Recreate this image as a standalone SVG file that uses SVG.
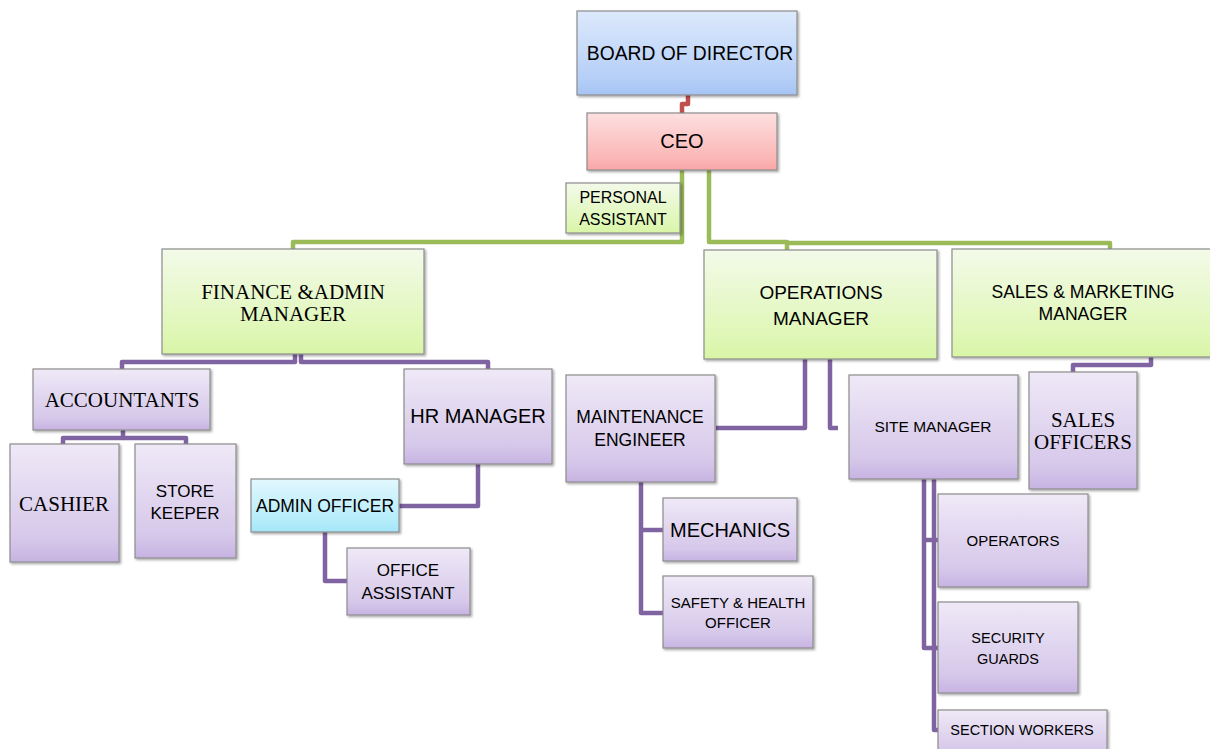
<svg xmlns="http://www.w3.org/2000/svg" width="1210" height="749" viewBox="0 0 1210 749">
<style>
.n{stroke:#8c8c8c;stroke-width:1.2;filter:url(#sh)}
.p{fill:url(#gp)}
.g{fill:url(#gg)}
.t{font-family:"Liberation Sans",Arial,sans-serif;fill:#000;text-anchor:middle}
.s{font-family:"Liberation Serif","Times New Roman",serif;fill:#000;text-anchor:middle}
.cg{fill:none;stroke:#9bbb59;stroke-width:4.5;stroke-linejoin:round}
.cp{fill:none;stroke:#8064a2;stroke-width:4.5;stroke-linejoin:round}
.cr{fill:none;stroke:#c0504d;stroke-width:4.5;stroke-linejoin:round}
</style>
<defs>
<linearGradient id="gp" x1="0" y1="0" x2="0" y2="1"><stop offset="0" stop-color="#efe9f7"/><stop offset="0.8" stop-color="#d6c8ea"/><stop offset="1" stop-color="#c7b3e2"/></linearGradient>
<linearGradient id="gg" x1="0" y1="0" x2="0" y2="1"><stop offset="0" stop-color="#f3fae9"/><stop offset="0.8" stop-color="#dff7b6"/><stop offset="1" stop-color="#d8f5a6"/></linearGradient>
<linearGradient id="gb" x1="0" y1="0" x2="0" y2="1"><stop offset="0" stop-color="#dde9fc"/><stop offset="0.8" stop-color="#b5cff7"/><stop offset="1" stop-color="#a6c4f4"/></linearGradient>
<linearGradient id="gr" x1="0" y1="0" x2="0" y2="1"><stop offset="0" stop-color="#fde0e0"/><stop offset="0.8" stop-color="#fbb6b6"/><stop offset="1" stop-color="#f9a6a6"/></linearGradient>
<linearGradient id="gc" x1="0" y1="0" x2="0" y2="1"><stop offset="0" stop-color="#e2f7fd"/><stop offset="0.8" stop-color="#b3ecfa"/><stop offset="1" stop-color="#a3e6f8"/></linearGradient>
<filter id="sh" x="-10%" y="-10%" width="130%" height="130%"><feDropShadow dx="1.5" dy="1.5" stdDeviation="1" flood-color="#000" flood-opacity="0.35"/></filter>
</defs>

<g id="connectors">
<path class="cr" d="M688,95 V104 H682 V113"/>
<path class="cg" d="M682,170 V242 H293 V250"/>
<path class="cg" d="M709,170 V242 H787 V250"/>
<path class="cg" d="M787,243 H1110 V250"/>
<path class="cp" d="M295,354 V362 H122 V370"/>
<path class="cp" d="M301,354 V362 H488 V370"/>
<path class="cp" d="M123,430 V438 H63 V444"/>
<path class="cp" d="M123,438 H186 V444"/>
<path class="cp" d="M478,464 V506 H399"/>
<path class="cp" d="M325,532 V581 H347"/>
<path class="cp" d="M805,359 V428 H716"/>
<path class="cp" d="M830,359 V428 H838"/>
<path class="cp" d="M641,482 V613 H663"/>
<path class="cp" d="M641,530 H663"/>
<path class="cp" d="M1151,357 V365 H1073 V372"/>
<path class="cp" d="M924,479 V648 H938"/>
<path class="cp" d="M924,540 H938"/>
<path class="cp" d="M934,479 V730 H938"/>
</g>

<g id="board"><rect class="n" x="577" y="11" width="220" height="84" fill="url(#gb)"/><text class="t" x="690" y="60" font-size="19.3">BOARD OF DIRECTOR</text></g>
<g id="ceo"><rect class="n" x="587" y="113" width="190" height="57" fill="url(#gr)"/><text class="t" x="682" y="148" font-size="20">CEO</text></g>
<g id="personal-assistant"><rect class="n g" x="566" y="183" width="114" height="50"/><text class="t" x="623" y="203" font-size="16">PERSONAL</text><text class="t" x="623" y="225" font-size="16">ASSISTANT</text></g>

<g id="finance"><rect class="n g" x="162" y="249" width="262" height="105"/><text class="s" x="293" y="299" font-size="21">FINANCE &amp;ADMIN</text><text class="s" x="293" y="321" font-size="21">MANAGER</text></g>
<g id="operations"><rect class="n g" x="704" y="250" width="233" height="109"/><text class="t" x="821" y="299" font-size="19">OPERATIONS</text><text class="t" x="821" y="325" font-size="19">MANAGER</text></g>
<g id="sales-marketing"><rect class="n g" x="952" y="249" width="262" height="108"/><text class="t" x="1083" y="298" font-size="17.6">SALES &amp; MARKETING</text><text class="t" x="1083" y="320" font-size="17.6">MANAGER</text></g>

<g id="accountants"><rect class="n p" x="33" y="369" width="177" height="61"/><text class="s" x="122" y="407" font-size="21">ACCOUNTANTS</text></g>
<g id="cashier"><rect class="n p" x="10" y="444" width="109" height="118"/><text class="s" x="64" y="511" font-size="21">CASHIER</text></g>
<g id="store-keeper"><rect class="n p" x="135" y="444" width="101" height="114"/><text class="t" x="185" y="497" font-size="17">STORE</text><text class="t" x="185" y="519" font-size="17">KEEPER</text></g>
<g id="hr-manager"><rect class="n p" x="404" y="369" width="148" height="95"/><text class="t" x="478" y="423" font-size="20">HR MANAGER</text></g>
<g id="admin-officer"><rect class="n" x="251" y="479" width="148" height="53" fill="url(#gc)"/><text class="t" x="325" y="512" font-size="17.5">ADMIN OFFICER</text></g>
<g id="office-assistant"><rect class="n p" x="347" y="548" width="123" height="67"/><text class="t" x="408" y="576" font-size="17">OFFICE</text><text class="t" x="408" y="599" font-size="17">ASSISTANT</text></g>

<g id="maintenance"><rect class="n p" x="566" y="375" width="149" height="107"/><text class="t" x="640" y="423" font-size="17.5">MAINTENANCE</text><text class="t" x="640" y="446" font-size="17.5">ENGINEER</text></g>
<g id="mechanics"><rect class="n p" x="663" y="498" width="134" height="63"/><text class="t" x="730" y="537" font-size="20">MECHANICS</text></g>
<g id="safety"><rect class="n p" x="663" y="576" width="150" height="72"/><text class="t" x="738" y="608" font-size="15">SAFETY &amp; HEALTH</text><text class="t" x="738" y="628" font-size="15">OFFICER</text></g>

<g id="site-manager"><rect class="n p" x="849" y="375" width="169" height="104"/><text class="t" x="933" y="432" font-size="15.5">SITE MANAGER</text></g>
<g id="sales-officers"><rect class="n p" x="1029" y="372" width="108" height="117"/><text class="s" x="1083" y="427" font-size="21">SALES</text><text class="s" x="1083" y="449" font-size="21">OFFICERS</text></g>
<g id="operators"><rect class="n p" x="938" y="494" width="150" height="93"/><text class="t" x="1013" y="546" font-size="15">OPERATORS</text></g>
<g id="security-guards"><rect class="n p" x="938" y="602" width="140" height="91"/><text class="t" x="1008" y="643" font-size="14.5">SECURITY</text><text class="t" x="1008" y="664" font-size="14.5">GUARDS</text></g>
<g id="section-workers"><rect class="n p" x="938" y="710" width="169" height="50"/><text class="t" x="1022" y="735" font-size="14.5">SECTION WORKERS</text></g>
</svg>
